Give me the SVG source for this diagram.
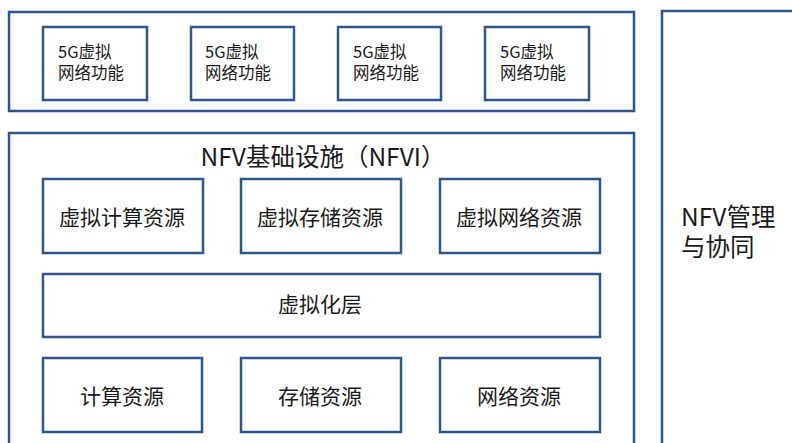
<svg xmlns="http://www.w3.org/2000/svg" width="792" height="443" viewBox="0 0 792 443">
<style>
.b{fill:#fff;stroke:#2F5597;stroke-width:2.5}
text{font-family:"Noto Sans CJK SC","Noto Sans",sans-serif;fill:#1a1a1a}
.s{font-size:16.5px}
.m{font-size:21px;text-anchor:middle;dominant-baseline:central}
.l{font-size:24.5px}
</style>
<rect width="792" height="443" fill="#fff"/>
<g id="vnf-layer"><rect class="b" x="9" y="12" width="625" height="99"/></g>
<g id="vnf1"><rect class="b" x="43" y="27" width="104" height="73"/><text class="s" x="58" y="58">5G虚拟<tspan x="58" dy="21">网络功能</tspan></text></g>
<g id="vnf2"><rect class="b" x="191" y="27" width="103" height="73"/><text class="s" x="205" y="58">5G虚拟<tspan x="205" dy="21">网络功能</tspan></text></g>
<g id="vnf3"><rect class="b" x="338" y="27" width="103" height="73"/><text class="s" x="353" y="58">5G虚拟<tspan x="353" dy="21">网络功能</tspan></text></g>
<g id="vnf4"><rect class="b" x="485" y="27" width="104" height="73"/><text class="s" x="500" y="58">5G虚拟<tspan x="500" dy="21">网络功能</tspan></text></g>
<g id="mano"><rect class="b" x="662" y="11" width="160" height="450"/><text class="l" x="681" y="226">NFV管理<tspan x="681" dy="30">与协同</tspan></text></g>
<g id="nfvi"><rect class="b" x="9" y="133" width="625" height="330"/><text class="l" x="323" y="155" text-anchor="middle" dominant-baseline="central">NFV基础设施（NFVI）</text></g>
<g id="vcompute"><rect class="b" x="43" y="179" width="160" height="74"/><text class="m" x="122" y="216">虚拟计算资源</text></g>
<g id="vstorage"><rect class="b" x="241" y="179" width="160" height="74"/><text class="m" x="320" y="216">虚拟存储资源</text></g>
<g id="vnetwork"><rect class="b" x="440" y="179" width="160" height="74"/><text class="m" x="519" y="216">虚拟网络资源</text></g>
<g id="vlayer"><rect class="b" x="43" y="274" width="557" height="63"/><text class="m" x="320" y="303">虚拟化层</text></g>
<g id="compute"><rect class="b" x="43" y="358" width="159" height="74"/><text class="m" x="122" y="395">计算资源</text></g>
<g id="storage"><rect class="b" x="241" y="358" width="160" height="74"/><text class="m" x="320" y="395">存储资源</text></g>
<g id="network"><rect class="b" x="440" y="358" width="160" height="74"/><text class="m" x="519" y="395">网络资源</text></g>
<g id="connectors"></g>
</svg>
